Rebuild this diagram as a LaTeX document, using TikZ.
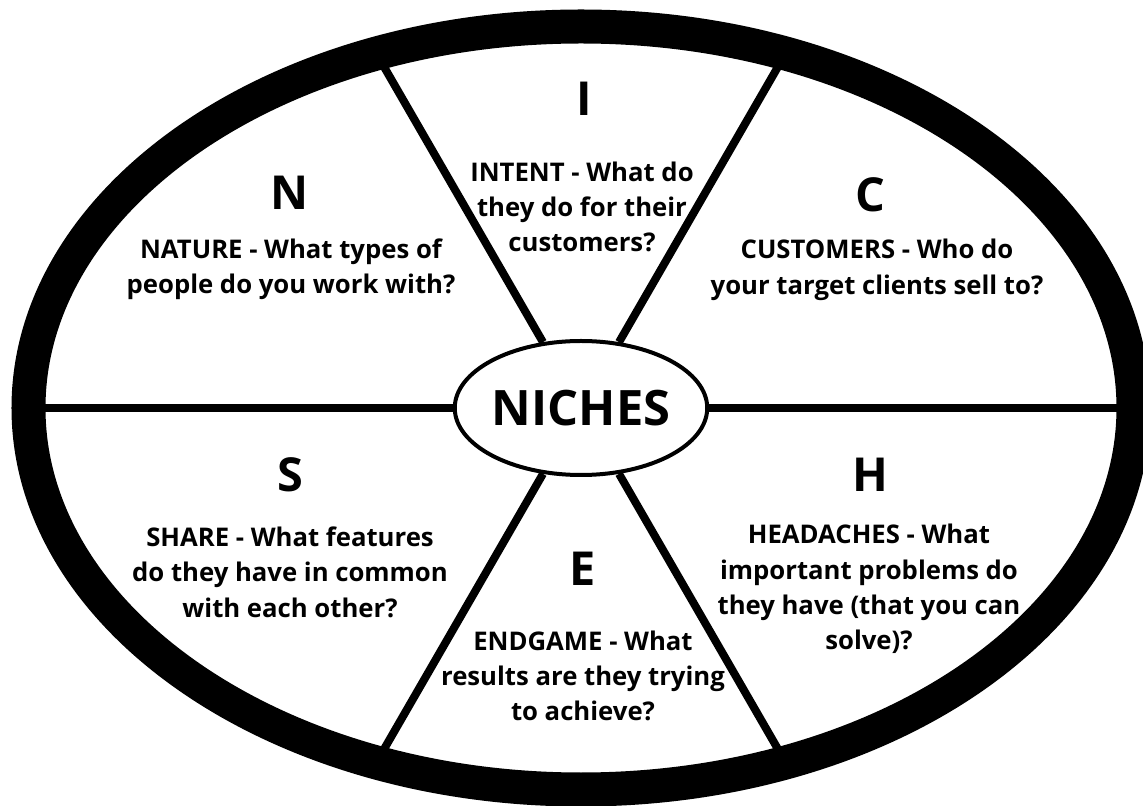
\documentclass[tikz,border=0pt]{standalone}
\usepackage{fontspec}
\setmainfont{Open Sans}
\usetikzlibrary{shapes.geometric,positioning}

\begin{document}
\begin{tikzpicture}[x=1bp,y=1bp]
	\tikzstyle{letter}=[font=\fontsize{47}{47}\selectfont\bfseries,inner sep=0pt]
	\tikzstyle{question}=[font=\fontsize{25.8}{35.5}\selectfont\bfseries,align=center,inner sep=0pt]
	\tikzstyle{spoke}=[line width=8bp]

	\useasboundingbox (-581,-398) rectangle (562,408);
	\fill[white] (-581,-398) rectangle (562,408);

	\node[ellipse,draw,fill=white,line width=4bp,inner sep=0pt,minimum width=196bp,
		minimum height=134bp,font=\fontsize{49}{49}\selectfont\bfseries] (niches) at (0,0) {NICHES};

	\foreach \a/\r in {0/550,60/400,120/400,180/550,240/400,300/400}{
		\coordinate (rim\a) at (\a:\r);
		\draw[spoke] (niches) -- (rim\a);
	}
	\draw[line width=34bp] (0,0) ellipse [x radius=552.5,y radius=381.5];

	\node[letter] (N) at (-291,215) {N};
	\node[question] (nature) at (-290,139) {NATURE - What types of\\people do you work with?};
	\node[letter] (I) at (3,309) {I};
	\node[question] (intent) at (1,201) {INTENT - What do\\they do for their\\customers?};
	\node[letter] (C) at (289,213) {C};
	\node[question] (customers) at (296,138) {CUSTOMERS - Who do\\your target clients sell to?};
	\node[letter] (S) at (-291,-67) {S};
	\node[question] (share) at (-291,-164) {SHARE - What features\\do they have in common\\with each other?};
	\node[letter] (E) at (2,-161) {E};
	\node[question] (endgame) at (2,-268) {ENDGAME - What\\results are they trying\\to achieve?};
	\node[letter] (H) at (289,-67) {H};
	\node[question] (headaches) at (288,-181) {HEADACHES - What\\important problems do\\they have (that you can\\solve)?};
\end{tikzpicture}
\end{document}
